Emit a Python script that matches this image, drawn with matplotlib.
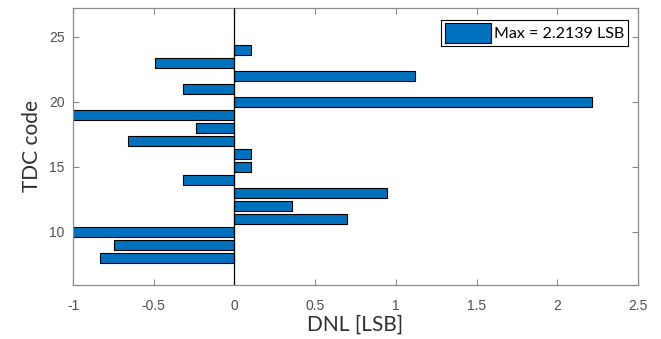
import matplotlib
matplotlib.use("Agg")
import matplotlib.pyplot as plt
from matplotlib.patches import Patch

# DNL per TDC code
codes = [8, 9, 10, 11, 12, 13, 14, 15, 16, 17, 18, 19, 20, 21, 22, 23, 24]
dnl = [-0.83, -0.746, -1.0, 0.696, 0.355, 0.947, -0.318, 0.10, 0.10,
       -0.659, -0.238, -1.0, 2.2139, -0.318, 1.119, -0.49, 0.10]
x_ticks = [-1, -0.5, 0, 0.5, 1, 1.5, 2, 2.5]
x_tick_labels = ["-1", "-0.5", "0", "0.5", "1", "1.5", "2", "2.5"]
y_ticks = [10, 15, 20, 25]
legend_label = "Max = 2.2139 LSB"

bar_color = "#0072BD"
axis_gray = "#8c8c8c"
text_gray = "#505050"
label_font = ["Lato", "DejaVu Sans"]

fig = plt.figure(figsize=(6.61, 3.39), dpi=100)
ax = fig.add_axes([73 / 661, 1 - 285 / 339, (638 - 73) / 661, (285 - 8) / 339])

ax.barh(codes, dnl, height=0.8, color=bar_color, edgecolor="black", linewidth=0.8, zorder=2)
ax.axvline(0, color="black", linewidth=0.9, zorder=3)

ax.set_xlim(-1, 2.5)
ax.set_ylim(5.92, 27.23)
ax.set_xticks(x_ticks)
ax.set_xticklabels(x_tick_labels)
ax.set_yticks(y_ticks)

for s in ax.spines.values():
    s.set_color(axis_gray)
    s.set_linewidth(0.9)
ax.tick_params(axis="both", direction="in", length=4, width=0.8, color=axis_gray,
               labelcolor=text_gray, labelsize=10, top=True, right=True)
ax.tick_params(axis="x", pad=10)
ax.tick_params(axis="y", pad=6)
for lbl in ax.get_xticklabels() + ax.get_yticklabels():
    lbl.set_family(["Liberation Sans", "DejaVu Sans"])

ax.set_xlabel("DNL [LSB]", fontsize=15, family=label_font, color="#303030", labelpad=1)
ax.set_ylabel("TDC code", fontsize=15, family=label_font, color="#303030", labelpad=5)

handle = Patch(facecolor=bar_color, edgecolor="black", linewidth=0.8)
leg = ax.legend([handle], [legend_label], loc="upper right", bbox_to_anchor=(0.982, 0.958),
                prop={"family": label_font, "size": 11.5},
                handlelength=2.9, handleheight=1.5, handletextpad=0.2,
                borderpad=0.22, borderaxespad=0.0, fancybox=False, framealpha=1,
                edgecolor="black")
leg.get_frame().set_linewidth(0.8)

fig.savefig("out.png", dpi=100)
